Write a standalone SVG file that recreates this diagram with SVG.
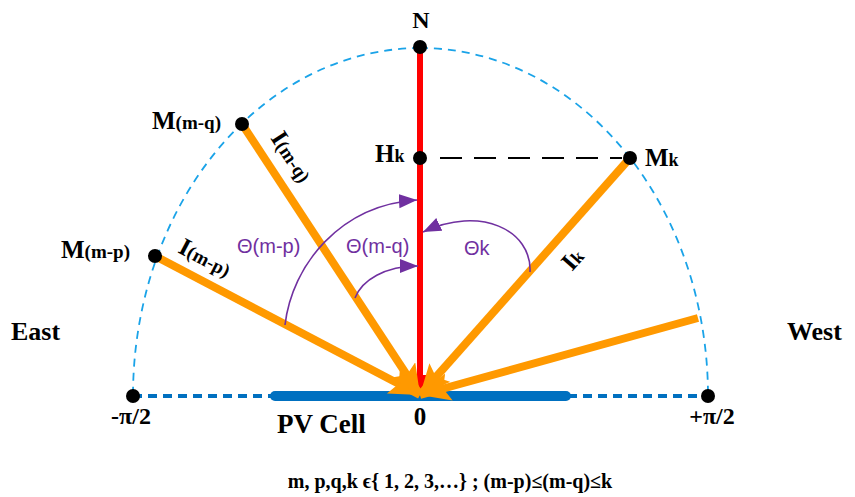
<svg xmlns="http://www.w3.org/2000/svg" width="855" height="497" viewBox="0 0 855 497">
<defs>
<marker id="ah-o" markerUnits="userSpaceOnUse" markerWidth="40" markerHeight="40" refX="30" refY="14" orient="auto"><path d="M0,0 L30,14 L0,28 L6,14 Z" fill="#ff9900"/></marker>
<marker id="ah-r" markerUnits="userSpaceOnUse" markerWidth="24" markerHeight="24" refX="20" refY="8" orient="auto"><path d="M0,0 L20,8 L0,16 Z" fill="#ff0000"/></marker>
<marker id="ah-p" markerUnits="userSpaceOnUse" markerWidth="24" markerHeight="24" refX="18" refY="7" orient="auto"><path d="M0,0 L18,7 L0,14 Z" fill="#7030a0"/></marker>
</defs>
<style>
.ray{stroke:#ff9900;stroke-width:8;fill:none}
.arc{stroke:#7030a0;stroke-width:1.6;fill:none}
.dot{fill:#000}
.lb{font-family:"Liberation Serif","Times New Roman",serif;font-weight:bold;fill:#000}
.th{font-family:"Liberation Sans",Arial,sans-serif;fill:#7030a0;font-size:20px}
</style>
<g id="connectors">
<path d="M420,48 A288,348 0 0 0 133,396" stroke="#1aa3e8" stroke-width="1.8" fill="none" stroke-dasharray="8,6"/>
<path d="M420,48 A288,348 0 0 1 708,396" stroke="#1aa3e8" stroke-width="1.8" fill="none" stroke-dasharray="8,6"/>
<line x1="133" y1="396" x2="272" y2="396" stroke="#0070c0" stroke-width="4" stroke-dasharray="9,6"/>
<line x1="568" y1="396" x2="708" y2="396" stroke="#0070c0" stroke-width="4" stroke-dasharray="9,6"/>
<line x1="275" y1="396" x2="566" y2="396" stroke="#0070c0" stroke-width="10" stroke-linecap="round"/>
<line x1="440" y1="158" x2="622" y2="158" stroke="#000" stroke-width="1.8" stroke-dasharray="22,12"/>
<line x1="420" y1="48" x2="420" y2="395" stroke="#ff0000" stroke-width="6" marker-end="url(#ah-r)"/>
<line class="ray" x1="155" y1="256" x2="420" y2="395" marker-end="url(#ah-o)"/>
<line class="ray" x1="242" y1="124" x2="420" y2="395" marker-end="url(#ah-o)"/>
<line class="ray" x1="630" y1="158" x2="420" y2="395" marker-end="url(#ah-o)"/>
<line class="ray" x1="698" y1="318" x2="420" y2="395" marker-end="url(#ah-o)"/>
<path class="arc" d="M285,325 C292,265 340,205 417,200" marker-end="url(#ah-p)"/>
<path class="arc" d="M355,298 C362,280 385,266 418,266" marker-end="url(#ah-p)"/>
<path class="arc" d="M530,272 C532,230 480,205 423,232" marker-end="url(#ah-p)"/>
</g>
<g id="N"><circle class="dot" cx="420" cy="47" r="7"/><text class="lb" x="421" y="28" font-size="24" text-anchor="middle">N</text></g>
<g id="Hk"><circle class="dot" cx="420" cy="158" r="7"/><text class="lb" x="375" y="162" font-size="25">H<tspan font-size="18">k</tspan></text></g>
<g id="Mmq"><circle class="dot" cx="242" cy="124" r="7"/><text class="lb" x="152" y="129" font-size="25">M<tspan font-size="19">(m-q)</tspan></text></g>
<g id="Mmp"><circle class="dot" cx="155" cy="256" r="7"/><text class="lb" x="61" y="258" font-size="25">M<tspan font-size="19">(m-p)</tspan></text></g>
<g id="Mk"><circle class="dot" cx="630" cy="158" r="7"/><text class="lb" x="645" y="166" font-size="25">M<tspan font-size="18">k</tspan></text></g>
<g id="west-end"><circle class="dot" cx="133" cy="396" r="7"/><text class="lb" x="131" y="424" font-size="24" text-anchor="middle">-π/2</text></g>
<g id="east-end"><circle class="dot" cx="708" cy="396" r="7"/><text class="lb" x="712" y="424" font-size="24" text-anchor="middle">+π/2</text></g>
<g id="labels">
<text class="lb" x="11" y="340" font-size="26">East</text>
<text class="lb" x="787" y="340" font-size="26">West</text>
<text class="lb" x="277" y="433" font-size="27">PV Cell</text>
<text class="lb" x="420" y="425" font-size="25" text-anchor="middle">0</text>
<text class="lb" x="450" y="488" font-size="20" text-anchor="middle">m, p,q,k ϵ{ 1, 2, 3,…} ; (m-p)≤(m-q)≤k</text>
<text class="lb" transform="translate(270,138) rotate(56.7)" font-size="25">I<tspan font-size="19">(m-q)</tspan></text>
<text class="lb" transform="translate(177,252) rotate(27.7)" font-size="25">I<tspan font-size="19">(m-p)</tspan></text>
<text class="lb" transform="translate(572,272) rotate(-48.5)" font-size="25">I<tspan font-size="18">k</tspan></text>
<text class="th" x="237" y="253">Θ(m-p)</text>
<text class="th" x="346" y="253">Θ(m-q)</text>
<text class="th" x="464" y="255">Θk</text>
</g>
</svg>
